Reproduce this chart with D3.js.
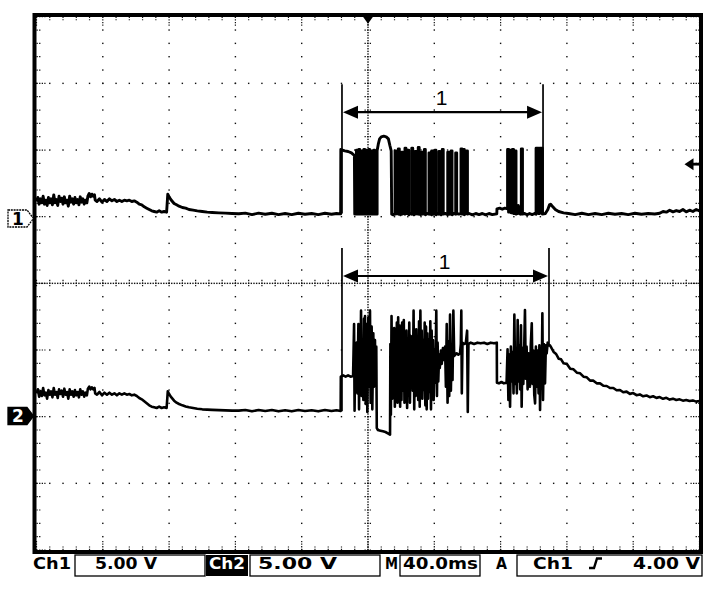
<!DOCTYPE html>
<html><head><meta charset="utf-8">
<script src="https://cdn.jsdelivr.net/npm/d3@7"></script>
<style>body{margin:0;background:#fff;}svg{display:block;}</style>
</head><body>
<svg id="c" width="717" height="590"></svg>
<script>
// ---------- data (time in ms, 40 ms/div; volts, 5 V/div) ----------
const timeDomain = [0, 400];
const voltsPerDiv = 5;
const ch1 = [
[0,1.2],[0.8,1.5],[1.6,1.0],[2.4,1.4],[3.2,1.1],[4,1.6],[4.8,1.0],[5.6,1.3],[6.4,0.9],[7.2,1.5],[8,1.1],[8.8,1.4],[9.6,0.95],[10.4,1.7],[11.2,1.1],[12,1.35],[12.8,0.9],[13.6,1.6],[14.4,1.2],[15.2,1.45],[16,1.0],[16.8,1.55],[17.6,1.1],[18.4,1.3],[19.2,0.85],[20,1.6],[20.8,1.15],[21.6,1.4],[22.4,1.0],[23.2,1.5],[24,1.1],[24.8,1.35],[25.6,0.95],[26.4,1.55],[27.2,1.15],[28,1.4],[28.8,1.0],[29.6,1.3],[30.4,1.1],
[31,1.6],[31.8,1.8],[32.6,1.55],[33.4,1.75],[34.2,1.6],[35,1.7],[35.4,1.3],
[36.5,1.2],[38,1.4],[39.5,1.15],[41,1.35],[42.5,1.2],[44,1.4],[45.5,1.25],[47,1.35],[48.5,1.2],[50,1.3],[51.5,1.2],[53,1.3],[54.5,1.25],[56,1.3],[57.5,1.2],[59,1.25],
[60.5,1.15],[62,1.0],[63.5,0.95],[65,0.8],[66.5,0.7],[68,0.6],[69.5,0.5],[71,0.45],[72.5,0.4],[74,0.5],[75.5,0.4],[77,0.45],[78.5,0.4],
[79.2,1.75],[80,1.55],[81,1.35],[82,1.2],[83,1.05],[84.5,0.95],[86,0.85],[88,0.75],[90,0.7],[92,0.6],[94.5,0.55],[97,0.5],[100,0.45],[103,0.4],[106,0.38],[110,0.35],[114,0.33],[118,0.3],[122,0.28],
[126,0.33],[130,0.22],[134,0.33],[138,0.24],[142,0.32],[146,0.22],[150,0.3],[154,0.22],[158,0.32],[162,0.24],[166,0.3],[170,0.22],[174,0.32],[178,0.24],[181,0.3],[183.5,0.27],
[183.6,5.1],[186,5.0],[188,4.95],[190,4.85],[191.8,4.65],[192,0.25],
[193,0.25],[193,5.05],[193.5,5.05],[193.5,0.25],[194.5,0.25],[194.5,5.1],[195,5.1],[195,0.25],[196,0.25],[196,5.0],[196.5,5.0],[196.5,0.25],[197.5,0.25],[197.5,5.1],[198,5.1],[198,0.25],[199,0.25],[199,5.05],[199.5,5.05],[199.5,0.25],[200.5,0.25],[200.5,5.1],[201,5.1],[201,0.25],[202,0.25],[202,5.0],[202.5,5.0],[202.5,0.25],[203.5,0.25],[203.5,5.05],[204,5.05],[204,0.25],
[205.5,0.25],[205.5,5.0],[206.2,5.5],[207,5.9],[208,6.05],[209.5,6.1],[211,6.05],[212.3,5.9],[213.2,5.4],[214,5.0],[214.3,0.25],
[215.3,0.2],[216.3,0.3],[216.3,5.0],[216.9,5.0],[216.9,0.25],[217.6,0.35],[218.3,0.25],[218.3,5.15],[218.9,5.15],[218.9,0.3],[219.6,0.2],[220.3,0.3],[220.3,4.9],[220.9,4.9],[220.9,0.25],[221.6,0.35],[222.3,0.25],[222.3,5.2],[222.9,5.2],[222.9,0.3],[224,0.3],[224,5.05],[224.6,5.05],[224.6,0.2],[225.5,0.3],[226.4,0.25],[226.4,5.2],[227,5.2],[227,0.3],[227.7,0.2],[228.4,0.3],[228.4,4.95],[229,4.95],[229,0.25],[229.7,0.35],[230.3,0.25],[230.3,5.25],[230.9,5.25],[230.9,0.3],[231.7,0.2],[232.4,0.3],[232.4,4.9],[233,4.9],[233,0.25],[234,0.3],[234,5.1],[234.6,5.1],[234.6,0.2],[235.7,0.3],[236.8,0.25],[236.8,4.85],[237.4,4.85],[237.4,0.3],[238.4,0.2],[238.4,5.0],[239,5.0],[239,0.3],[239.7,0.25],[240.4,0.3],[240.4,5.05],[241,5.05],[241,0.2],[242,0.3],[242.8,0.25],[242.8,4.95],[243.4,4.95],[243.4,0.3],[244.1,0.2],[244.8,0.3],[244.8,5.1],[245.4,5.1],[245.4,0.25],[246.8,0.3],[248.1,0.2],[248.1,4.9],[248.7,4.9],[248.7,0.3],[249.4,0.25],[250.1,0.3],[250.1,5.0],[250.7,5.0],[250.7,0.2],[251.8,0.3],[252.9,0.25],[252.9,4.85],[253.5,4.85],[253.5,0.3],[254.8,0.25],[256.1,0.3],[256.1,5.15],[256.7,5.15],[256.7,0.25],[257.5,0.3],[257.5,5.1],[258.1,5.1],[258.1,0.2],[258.8,0.3],[259.4,0.3],[259.4,5.0],[260,5.0],[260,0.25],
[261,0.3],[263,0.2],[265,0.3],[267,0.22],[269,0.3],[271,0.2],[273,0.3],[275,0.22],[277.7,0.28],[277.8,0.65],[279.5,0.7],[281,0.62],[282.5,0.7],[284.2,0.65],
[284.2,5.1],[284.8,5.1],[284.8,0.4],[285.7,0.4],[285.7,5.05],[286.3,5.05],[286.3,0.35],[287.2,0.35],[287.2,5.1],[287.8,5.1],[287.8,0.3],[288.7,0.3],[288.7,5.0],[289.3,5.0],[289.3,0.25],[290.3,0.3],[290.7,0.9],[291.1,0.3],[292,0.25],[292.5,0.3],[292.5,5.15],[293.2,5.15],[293.2,0.25],[294.5,0.3],[296,0.2],[297.5,0.3],[299,0.22],[300.5,0.3],[301.4,0.25],[301.4,5.2],[302.8,5.2],[302.8,0.3],[303.6,0.3],[303.6,5.2],[305.2,5.2],[305.2,0.25],
[307,0.3],[308.5,0.6],[309.5,0.95],[310.2,1.0],[311.5,0.8],[313,0.6],[315,0.45],[318,0.35],[321,0.3],
[325,0.22],[329,0.32],[333,0.22],[337,0.3],[341,0.22],[345,0.32],[349,0.24],[353,0.3],[357,0.22],[361,0.32],[365,0.24],[369,0.3],[373,0.26],[376,0.32],[378,0.45],[380,0.4],[382,0.55],[384,0.42],[386,0.52],[388,0.45],[390,0.6],[392,0.42],[394,0.55],[396,0.45],[398,0.6],[400,0.5]
];
const ch2 = [
[0,1.7],[0.8,2.0],[1.6,1.45],[2.4,1.85],[3.2,1.5],[4,2.1],[4.8,1.55],[5.6,1.75],[6.4,1.3],[7.2,1.95],[8,1.6],[8.8,1.85],[9.6,1.4],[10.4,2.1],[11.2,1.6],[12,1.8],[12.8,1.35],[13.6,2.0],[14.4,1.65],[15.2,1.9],[16,1.45],[16.8,2.05],[17.6,1.6],[18.4,1.8],[19.2,1.3],[20,2.0],[20.8,1.6],[21.6,1.85],[22.4,1.45],[23.2,1.95],[24,1.55],[24.8,1.8],[25.6,1.4],[26.4,2.0],[27.2,1.6],[28,1.85],[28.8,1.45],[29.6,1.75],[30.4,1.55],
[31,2.05],[31.8,2.2],[32.6,2.0],[33.4,2.15],[34.2,2.0],[35,2.1],[35.4,1.7],
[36.5,1.6],[38,1.8],[39.5,1.55],[41,1.75],[42.5,1.6],[44,1.75],[45.5,1.6],[47,1.7],[48.5,1.55],[50,1.7],[51.5,1.6],[53,1.7],[54.5,1.6],[56,1.65],[57.5,1.55],[59,1.6],
[60.5,1.5],[62,1.35],[63.5,1.25],[65,1.1],[66.5,0.95],[68,0.8],[69.5,0.7],[71,0.65],[72.5,0.6],[74,0.7],[75.5,0.6],[77,0.65],[78.5,0.6],
[79.2,1.85],[80,1.65],[81,1.45],[82,1.3],[83,1.15],[84.5,1.0],[86,0.9],[88,0.8],[90,0.72],[92,0.65],[94.5,0.6],[97,0.55],[100,0.5],[103,0.48],[106,0.46],[110,0.44],[114,0.42],[118,0.4],[122,0.4],
[126,0.45],[130,0.35],[134,0.45],[138,0.37],[142,0.45],[146,0.35],[150,0.43],[154,0.35],[158,0.45],[162,0.37],[166,0.43],[170,0.35],[174,0.45],[178,0.37],[181,0.43],[183.5,0.38],
[183.6,2.95],[185,3.05],[186.5,2.95],[188,3.05],[189.5,2.95],[191,3.0],
[191.6,6.9],[191.9,0.4],[192.3,5.2],[192.7,3.9],[193.2,5.5],[193.6,1.7],[194.2,6.9],[194.6,0.5],[195,5.3],[195.4,3.6],[195.8,7.9],[196.2,1.5],[196.7,5.6],[197.2,1.2],[197.6,7.3],[198,3.8],[198.2,7.5],[198.6,0.9],[199.2,6.9],[199.6,0.3],[200.2,7.4],[200.6,2.2],[201.2,7.9],[201.6,1.0],[202.2,6.7],[202.6,0.5],[203.2,6.2],[203.6,2.2],[204.2,5.7],[204.6,2.8],[205,5.2],[205.3,-0.9],
[206,-1.05],[207.5,-1.1],[209,-1.15],[210.5,-1.2],[212,-1.3],[213.3,-1.4],
[213.5,5.4],[213.8,0.1],[214.2,7.5],[214.6,1.3],[215,5.5],[215.4,1.4],[215.8,6.6],[216.2,0.7],[216.6,5.7],[217,1.9],[217.4,7.0],[217.8,1.0],[218.2,7.4],[218.6,1.6],[219,6.8],[219.4,0.7],[219.8,5.4],[220.2,1.2],[220.6,7.0],[221,1.9],[221.6,7.2],[222,1.0],[222.4,6.2],[222.8,2.4],[223.2,6.4],[223.6,0.6],[224.1,5.7],[224.5,1.6],[224.9,7.0],[225.3,1.0],[225.8,6.0],[226.2,2.2],[226.6,5.4],[227,1.9],[227.5,7.9],[227.9,0.5],[228.3,5.6],[228.7,1.5],[229.1,6.5],[229.5,1.95],[229.9,6.0],[230.3,1.2],[230.8,7.1],[231.2,0.7],[231.6,7.9],[232,2.3],[232.4,6.4],[232.8,1.3],[233.3,5.7],[233.7,1.95],[234.2,7.0],[234.6,0.8],[235,6.7],[235.4,0.5],[235.8,6.2],[236.2,1.3],[236.7,5.7],[237.1,1.8],[237.6,7.1],[238,0.5],[238.4,6.4],[238.8,1.95],[239.2,5.7],[239.6,1.2],[240.2,5.0],[240.6,2.5],[241.2,7.9],[241.6,1.5],[242,5.5],[242.4,2.6],[242.9,4.6],[243.3,3.6],[244,4.9],[244.5,3.9],[245.2,5.1],[245.8,4.2],[246.5,5.2],
[247,2.2],[247.5,6.9],[248,1.0],[248.5,5.6],[249,1.5],[249.5,7.6],[250,1.9],[250.5,5.3],[251,2.7],[251.5,7.9],[252,4.5],[252.6,4.6],[253.5,4.7],[254.5,4.6],[255.5,4.7],[256,5.4],[256.3,7.9],[256.6,1.7],[257,5.5],[258,5.4],[259,5.45],[259.8,6.4],[260.2,0.3],[260.6,5.4],[262,5.5],[264,5.4],[266,5.5],[268,5.45],[270,5.5],[272,5.4],[274,5.5],[276,5.45],[277.7,5.5],
[277.8,2.5],[279,2.45],[280.5,2.55],[282,2.45],[283.6,2.5],
[284.2,5.0],[284.7,1.2],[285.2,4.6],[285.7,0.7],[286.2,5.2],[286.7,2.6],[287.3,4.8],[287.8,1.7],[288.3,7.6],[288.8,2.4],[289.3,5.0],[289.8,1.7],[290.3,7.2],[290.8,2.6],[291.3,5.3],[291.8,2.0],[292.3,6.8],[292.7,0.7],[293.2,5.1],[293.7,2.4],[294.2,4.9],[294.7,7.95],[295.2,2.8],[295.7,5.2],[296.3,2.0],[296.8,4.7],[297.3,3.0],[297.7,2.2],[298.2,5.3],[298.8,6.95],[299.3,2.4],[299.8,4.9],[300.3,1.6],[300.8,0.95],[301.3,5.2],[301.8,2.2],[302.4,4.9],[302.9,1.7],[303.4,5.3],[303.8,0.45],[304.3,5.1],[304.8,2.6],[305.2,7.7],[305.6,1.2],[306.1,5.4],[306.8,2.45],[307.3,5.3],[307.8,4.7],[308.4,5.5],[309,5.3],[309.8,5.3],
[310.5,5.15],[312,4.8],[313.5,4.65],[315,4.3],[316.5,4.25],[318,3.95],[320,3.9],[322,3.55],[324,3.5],[326,3.25],[328,3.2],[330,2.95],[332,2.9],[334,2.65],[336,2.65],[338,2.45],[340,2.45],[342,2.27],[344,2.25],[346,2.1],[348,2.1],[350,1.93],[352,1.95],[354,1.78],[356,1.83],[358,1.66],[360,1.72],[362,1.56],[364,1.62],[366,1.48],[368,1.54],[370,1.41],[372,1.48],[374,1.36],[376,1.42],[378,1.29],[380,1.36],[382,1.23],[384,1.3],[386,1.2],[388,1.25],[390,1.15],[392,1.2],[394,1.12],[396,1.17],[398,1.08],[400,1.13]
];
const ch1Ground = 0, ch2Ground = 0;
const triggerLevel = 4.0;          // Ch1, volts
const triggerTime = 200;           // ms (trigger position)
const ch1CursorTimes = [184.3, 305.6];
const ch1CursorTop = 10.0, ch1CursorBottom = [0.3, 0.3], ch1CursorArrow = 7.9, ch1CursorLabelV = 9.0;
const ch2CursorTimes = [184.3, 309.2];
const ch2CursorTop = 12.6, ch2CursorBottom = [0.35, 5.25], ch2CursorArrow = 10.5, ch2CursorLabelV = 11.6;
const cursorLabel = "1";
const channelNames = ["1", "2"];
const statusTexts = ["Ch1", "5.00 V", "Ch2", "5.00 V", "M", "40.0ms", "A", "Ch1", "4.00 V"];

// ---------- layout ----------
const L = 36.5, R = 699.5, T = 16.7, B = 550;
const divPx = (B - T) / 8;
const svg = d3.select("#c");
const x = d3.scaleLinear().domain(timeDomain).range([L, R]);
const yd = d3.scaleLinear().domain([-4, 4]).range([B, T]);
const y1 = d3.scaleLinear().domain([0, voltsPerDiv]).range([217.5, 217.5 - divPx]);
const y2 = d3.scaleLinear().domain([0, voltsPerDiv]).range([416, 416 - divPx]);

// ---------- graticule ----------
const grid = svg.append("g").attr("fill", "#111");
const tMajor = d3.range(40, 400, 40).filter(t => t !== 200);
const tMinor = d3.range(0, 400.001, 8);
const dMinor = d3.range(-4, 4.0001, 0.2);
const dMajor = [-3, -2, -1, 1, 2, 3];
const dots = [];
tMajor.forEach(t => dMinor.forEach(d => dots.push([x(t), yd(d)])));
dMajor.forEach(d => tMinor.forEach(t => dots.push([x(t), yd(d)])));
d3.range(0, 400.001, 1.6).forEach(t => dots.push([x(t), yd(0)]));
d3.range(-4, 4.0001, 0.04).forEach(d => dots.push([x(200), yd(d)]));
grid.selectAll("rect.dot").data(dots).join("rect").attr("class", "dot")
  .attr("x", d => d[0] - 0.7).attr("y", d => d[1] - 0.7)
  .attr("width", 1.4).attr("height", 1.4);
const ticks = [];
tMinor.forEach(t => {
  ticks.push([x(t), yd(0) - 3.5, x(t), yd(0) + 3.5]);
  const maj = Math.abs(t % 40) < 1e-6;
  ticks.push([x(t), T, x(t), T + (maj ? 9 : 3.5)]);
  ticks.push([x(t), B, x(t), B - (maj ? 9 : 3.5)]);
});
dMinor.forEach(d => {
  ticks.push([x(200) - 3.5, yd(d), x(200) + 3.5, yd(d)]);
  const maj = Math.abs(Math.round(d) - d) < 1e-6;
  ticks.push([L, yd(d), L + (maj ? 9 : 4), yd(d)]);
  ticks.push([R, yd(d), R - (maj ? 9 : 4), yd(d)]);
});
svg.append("g").attr("stroke", "#111").attr("stroke-width", 1.2)
  .selectAll("line").data(ticks).join("line")
  .attr("x1", d => d[0]).attr("y1", d => d[1]).attr("x2", d => d[2]).attr("y2", d => d[3])
  .attr("stroke-dasharray", "1.3,1.3");

// ---------- traces ----------
const line1 = d3.line().x(d => x(d[0])).y(d => y1(d[1]));
const line2 = d3.line().x(d => x(d[0])).y(d => y2(d[1]));
svg.append("path").datum(ch1).attr("d", line1).attr("fill", "none").attr("stroke", "#000")
  .attr("stroke-width", 2.9).attr("stroke-linejoin", "round");
svg.append("path").datum(ch2).attr("d", line2).attr("fill", "none").attr("stroke", "#000")
  .attr("stroke-width", 2.6).attr("stroke-linejoin", "round");

// ---------- cursor annotations ----------
function cursors(times, top, bottoms, arrowV, labelV, ys, labelDx) {
  const g = svg.append("g");
  times.forEach((t, i) => {
    g.append("line").attr("x1", x(t)).attr("x2", x(t)).attr("y1", ys(top)).attr("y2", ys(bottoms[i]))
      .attr("stroke", "#000").attr("stroke-width", 1.7);
  });
  const ay = ys(arrowV), xa = x(times[0]), xb = x(times[1]);
  g.append("line").attr("x1", xa + 10).attr("x2", xb - 10).attr("y1", ay).attr("y2", ay)
    .attr("stroke", "#000").attr("stroke-width", 2.2);
  g.append("path").attr("d", `M${xa + 1},${ay} L${xa + 16},${ay - 6.5} L${xa + 16},${ay + 6.5} Z`).attr("fill", "#000");
  g.append("path").attr("d", `M${xb - 1},${ay} L${xb - 16},${ay - 6.5} L${xb - 16},${ay + 6.5} Z`).attr("fill", "#000");
  g.append("text").attr("x", (xa + xb) / 2 + labelDx).attr("y", ys(labelV)).attr("dy", "0.36em")
    .attr("text-anchor", "middle").attr("font-family", "Liberation Sans, Arial, sans-serif")
    .attr("font-size", 21).text(cursorLabel);
}
cursors(ch1CursorTimes, ch1CursorTop, ch1CursorBottom, ch1CursorArrow, ch1CursorLabelV, y1, -1);
cursors(ch2CursorTimes, ch2CursorTop, ch2CursorBottom, ch2CursorArrow, ch2CursorLabelV, y2, -1);

// ---------- frame ----------
svg.append("rect").attr("x", 34.5).attr("y", 15).attr("width", 666.5).attr("height", 537)
  .attr("fill", "none").attr("stroke", "#000").attr("stroke-width", 4);

const tx = x(triggerTime);
svg.append("path").attr("d", `M${tx - 5},${T} L${tx + 5},${T} L${tx},${T + 7} Z`).attr("fill", "#000");
const ty = y1(triggerLevel);
svg.append("path").attr("d", `M${R - 15},${ty} L${R - 6},${ty - 6} L${R - 6},${ty + 6} Z`).attr("fill", "#000");
svg.append("line").attr("x1", R - 7).attr("x2", R).attr("y1", ty).attr("y2", ty).attr("stroke", "#000").attr("stroke-width", 2.8);

function marker(yc, label, filled) {
  const g = svg.append("g");
  g.append("path").attr("d", `M8,${yc - 8.5} L27,${yc - 8.5} L33.5,${yc} L27,${yc + 8.5} L8,${yc + 8.5} Z`)
    .attr("fill", filled ? "#000" : "#fff").attr("stroke", "#000").attr("stroke-width", 1.3)
    .attr("stroke-dasharray", filled ? null : "2,0.8");
  g.append("text").attr("x", 18).attr("y", yc).attr("dy", "0.36em").attr("text-anchor", "middle")
    .attr("font-family", "DejaVu Sans, sans-serif").attr("font-weight", "bold").attr("font-size", 17)
    .attr("fill", filled ? "#fff" : "#000").text(label);
}
marker(y1(ch1Ground) + 1, channelNames[0], false);
marker(y2(ch2Ground), channelNames[1], true);

// ---------- status bar ----------
const sb = svg.append("g").attr("font-family", "DejaVu Sans, sans-serif").attr("font-weight", "bold").attr("font-size", 15);
const by = 555, bh = 21, base = 568.8;
[[75, 130], [250, 130], [400, 80], [517, 185]].forEach(([bx, bw]) => {
  sb.append("rect").attr("x", bx).attr("y", by).attr("width", bw).attr("height", bh)
    .attr("fill", "none").attr("stroke", "#000").attr("stroke-width", 1.3);
});
sb.append("rect").attr("x", 206).attr("y", by).attr("width", 42).attr("height", bh).attr("fill", "#000");
const st = [
  [statusTexts[0], 33, 38, "#000"], [statusTexts[1], 95, 62, "#000"], [statusTexts[2], 209, 36, "#fff"],
  [statusTexts[3], 258, 79, "#000"], [statusTexts[4], 385, 13, "#000"], [statusTexts[5], 403, 75, "#000"],
  [statusTexts[6], 496, 11, "#000"], [statusTexts[7], 533, 40, "#000"], [statusTexts[8], 633, 67, "#000"]
];
st.forEach(([s, sx, w, c]) => {
  sb.append("text").attr("x", sx).attr("y", base).attr("fill", c)
    .attr("textLength", w).attr("lengthAdjust", "spacingAndGlyphs").text(s);
});
sb.append("path").attr("d", "M589,568 L594,568 L597,558.5 L602,558.5").attr("fill", "none")
  .attr("stroke", "#000").attr("stroke-width", 2.4);
</script>
</body></html>
